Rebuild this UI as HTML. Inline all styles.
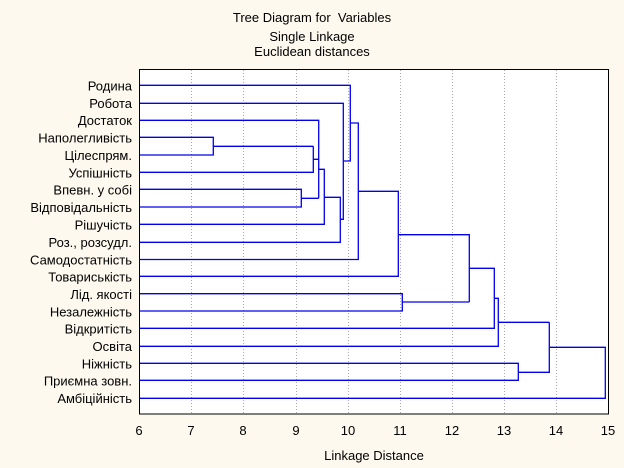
<!DOCTYPE html>
<html><head><meta charset="utf-8"><style>
html,body{margin:0;padding:0;background:#fdf9ee;}
svg{display:block;font-family:"Liberation Sans",Arial,sans-serif;}
</style></head><body>
<svg width="624" height="468" viewBox="0 0 624 468" xmlns="http://www.w3.org/2000/svg">
<rect width="624" height="468" fill="#fdf9ee"/>
<g font-size="13" fill="#000" text-anchor="middle">
<text x="312" y="22">Tree Diagram for &#160;Variables</text>
<text x="312" y="41">Single Linkage</text>
<text x="312" y="56">Euclidean distances</text>
</g>
<rect x="139.5" y="69.5" width="469" height="344.5" fill="#fff" stroke="#000" stroke-width="1"/>
<g id="grid" stroke="#aaa" stroke-dasharray="1,2" stroke-width="1">
<line x1="191.5" y1="70" x2="191.5" y2="414"/><line x1="243.5" y1="70" x2="243.5" y2="414"/>
<line x1="296.5" y1="70" x2="296.5" y2="414"/><line x1="348.5" y1="70" x2="348.5" y2="414"/>
<line x1="400.5" y1="70" x2="400.5" y2="414"/><line x1="452.5" y1="70" x2="452.5" y2="414"/>
<line x1="504.5" y1="70" x2="504.5" y2="414"/><line x1="556.5" y1="70" x2="556.5" y2="414"/>
</g>
<g id="ticks" stroke="#000" stroke-width="1"></g>
<g font-size="13" text-anchor="middle">
<text x="139" y="435">6</text><text x="191" y="435">7</text><text x="243" y="435">8</text>
<text x="296" y="435">9</text><text x="348" y="435">10</text><text x="400" y="435">11</text>
<text x="452" y="435">12</text><text x="504" y="435">13</text><text x="556" y="435">14</text>
<text x="608" y="435">15</text>
<text x="374" y="460">Linkage Distance</text>
</g>
<g font-size="13" text-anchor="end">
<text x="132" y="90.5">Родина</text>
<text x="132" y="108">Робота</text>
<text x="132" y="125">Достаток</text>
<text x="132" y="142.5">Наполегливість</text>
<text x="132" y="160">Цілеспрям.</text>
<text x="132" y="177.5">Успішність</text>
<text x="132" y="194.5">Впевн. у собі</text>
<text x="132" y="212">Відповідальність</text>
<text x="132" y="229.5">Рішучість</text>
<text x="132" y="247">Роз., розсудл.</text>
<text x="132" y="264.5">Самодостатність</text>
<text x="132" y="281.5">Товариськість</text>
<text x="132" y="299">Лід. якості</text>
<text x="132" y="316.5">Незалежність</text>
<text x="132" y="333.5">Відкритість</text>
<text x="132" y="351">Освіта</text>
<text x="132" y="368.5">Ніжність</text>
<text x="132" y="385.5">Приємна зовн.</text>
<text x="132" y="403">Амбіційність</text>
</g>
<g fill="none" stroke="#0000ee" stroke-width="1.3">
<path d="M140 137.3H213.3V155H140M213.3 146.3H313.3"/>
<path d="M313.3 146.3V172.3H140"/>
<path d="M140 189.3H301.3V207H140M301.3 198.3H318.7"/>
<path d="M140 120.3H318.7V198.3M313.3 159.3H318.7"/>
<path d="M318.7 169.3H324.3V224.3H140"/>
<path d="M324.3 197.3H340.3V242.3H140"/>
<path d="M340.3 219.3H343.3V103.3H140"/>
<path d="M343.3 161H350.3V85.3H140"/>
<path d="M350.3 123H358.3V259.5H140"/>
<path d="M358.3 191.3H398.3V276.3H140"/>
<path d="M140 293.7H402.3V311H140M402.3 302H469.3"/>
<path d="M398.3 234.7H469.3V302"/>
<path d="M469.3 268.3H494.3V328.3H140"/>
<path d="M494.3 298.3H498.3V346.3H140"/>
<path d="M498.3 322.3H549.3"/>
<path d="M140 363.3H518.3V380.3H140M518.3 372.3H549.3V322.3"/>
<path d="M549.3 347.3H605.3V398.3H140"/>
</g>
<script>
var g=document.getElementById('ticks'),s='';
for(var i=0;i<=36;i++){var x=139.5+i*13.04;var L=(i%4==0)?5:3;
s+='<line x1="'+x+'" y1="414" x2="'+x+'" y2="'+(414-L)+'"/>';
s+='<line x1="'+x+'" y1="70" x2="'+x+'" y2="'+(70+L)+'"/>';}
for(var j=0;j<19;j++){var y=85.3+j*17.39;
s+='<line x1="139.5" y1="'+y+'" x2="143" y2="'+y+'"/>';
s+='<line x1="608.5" y1="'+y+'" x2="605" y2="'+y+'"/>';}
g.innerHTML=s;
</script>
</svg>
</body></html>
